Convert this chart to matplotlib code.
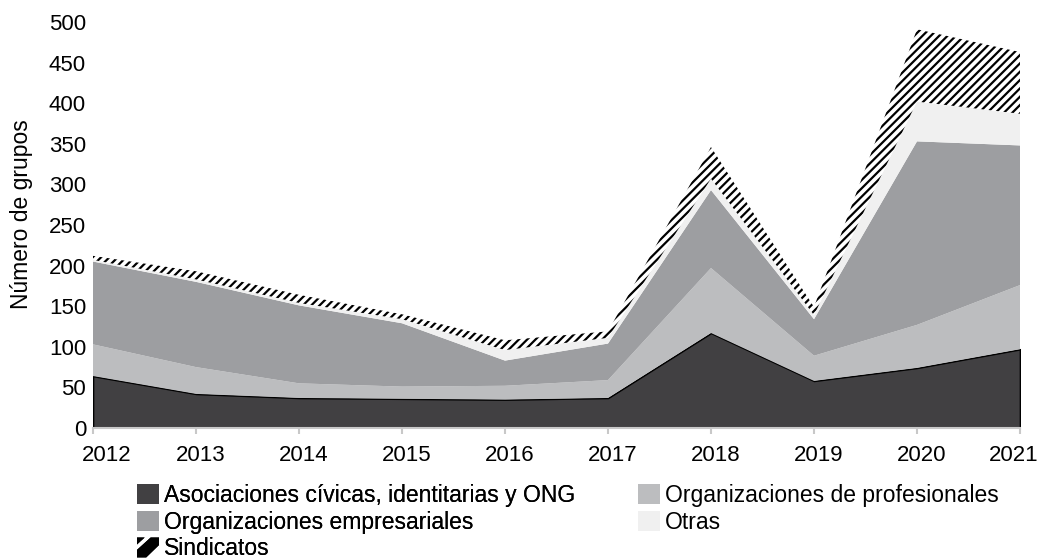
import numpy as np
import matplotlib.pyplot as plt
import matplotlib.transforms as mtransforms
from matplotlib.patches import Patch, PathPatch
from matplotlib.path import Path
from matplotlib.legend_handler import HandlerPatch

plt.rcParams['font.family'] = ['Liberation Sans', 'DejaVu Sans']
plt.rcParams['hatch.linewidth'] = 1.6

# datos (número de grupos por tipo y año)
years = [2012, 2013, 2014, 2015, 2016, 2017, 2018, 2019, 2020, 2021]
asociaciones = [64, 42, 37, 36, 35, 37, 117, 58, 74, 97]
profesionales = [39, 33, 18, 15, 17, 22, 80, 31, 53, 79]
empresariales = [102, 105, 96, 78, 31, 45, 96, 45, 226, 172]
otras = [2, 3, 3, 5, 13, 7, 14, 5, 49, 39]
sindicatos = [5, 10, 10, 6, 12, 8, 39, 10, 89, 76]

labels = ['Asociaciones cívicas, identitarias y ONG', 'Organizaciones de profesionales',
          'Organizaciones empresariales', 'Otras', 'Sindicatos']
colors = ['#414042', '#bcbdbf', '#9d9ea1', '#f0f0f0', 'white']

fig = plt.figure(figsize=(10.4, 5.59), dpi=100)
ax = fig.add_axes([93 / 1040, 1 - 428 / 559, (1020 - 93) / 1040, 406 / 559])

polys = ax.stackplot(years, asociaciones, profesionales, empresariales, otras, sindicatos,
                     colors=colors, linewidth=0)
polys[0].set_edgecolor('black')
polys[0].set_linewidth(1.2)
polys[4].set_hatch('////')
polys[4].set_edgecolor('black')
polys[4].set_linewidth(0)

ax.set_xlim(2012, 2021)
ax.set_ylim(0, 500)
ax.set_xticks(years)
ax.set_yticks(np.arange(0, 501, 50))
for s in ['top', 'right', 'left']:
    ax.spines[s].set_visible(False)
ax.spines['bottom'].set_color('#c8c8c8')
ax.spines['bottom'].set_linewidth(1.5)
ax.spines['bottom'].set_zorder(5)
ax.tick_params(axis='y', length=0, pad=5, labelsize=16)
ax.tick_params(axis='x', length=4, width=1.5, color='#c8c8c8', pad=8, labelsize=16)

# etiquetas del eje x un poco desplazadas como en el original
xlabs = ax.get_xticklabels()
for i, lab in enumerate(xlabs):
    dx = 5
    if i == 0:
        dx = 14
    elif i == len(xlabs) - 1:
        dx = -6
    lab.set_transform(lab.get_transform() + mtransforms.ScaledTranslation(dx / 100, 0, fig.dpi_scale_trans))

fig.text(22 / 1040, 1 - 214 / 559, 'Número de grupos', rotation=90, ha='center', va='center', fontsize=16.5)


def sind_handle(legend, orig_handle, xdescent, ydescent, width, height, fontsize):
    x0, y0 = -xdescent, -ydescent
    w, h = width, height
    band = [(0, 0), (0.42, 0), (1, 0.62), (1, 1), (0.62, 1), (0, 0.38), (0, 0)]
    tri = [(0, 1), (0.35, 1), (0, 0.65), (0, 1)]
    paths = [Path([(x0 + px * w, y0 + py * h) for px, py in p], closed=True) for p in (band, tri)]
    return PathPatch(Path.make_compound_path(*paths), facecolor='black', edgecolor='none')


sind_patch = Patch(facecolor='black')
leg_kw = dict(loc='upper left', frameon=False, fontsize=16.5, borderpad=0, borderaxespad=0,
              handlelength=0.96, handleheight=0.96, handletextpad=0.2, labelspacing=0.16)
leg1 = fig.legend([Patch(facecolor=colors[0]), Patch(facecolor=colors[2]), sind_patch],
                  [labels[0], labels[2], labels[4]], bbox_to_anchor=(137 / 1040, 1 - 484 / 559),
                  handler_map={sind_patch: HandlerPatch(patch_func=sind_handle)}, **leg_kw)
leg2 = fig.legend([Patch(facecolor=colors[1]), Patch(facecolor=colors[3])],
                  [labels[1], labels[3]], bbox_to_anchor=(638 / 1040, 1 - 484 / 559), **leg_kw)
fig.add_artist(leg1)

fig.savefig('out.png', dpi=100)
